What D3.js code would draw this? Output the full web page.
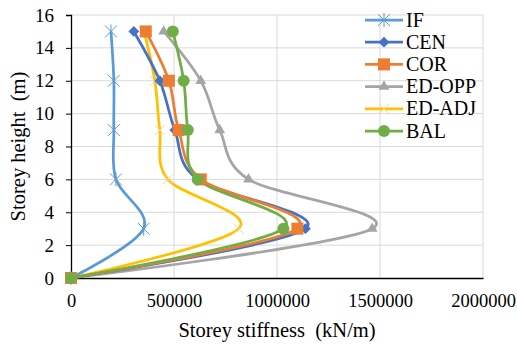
<!DOCTYPE html>
<html>
<head>
<meta charset="utf-8">
<script src="https://cdn.jsdelivr.net/npm/d3@7"></script>
<style>
  body { margin: 0; background: #fff; }
</style>
</head>
<body>
<div class="chart"></div>
<script>
// storey heights (m)
const heights = [0, 3, 6, 9, 12, 15];

// storey stiffness (kN/m) per model
const seriesNames = ['IF', 'CEN', 'COR', 'ED-OPP', 'ED-ADJ', 'BAL'];
const ifVals    = [0, 353000, 218000, 208000, 208000, 194000];
const cenVals   = [0, 1138000, 615000, 504000, 431000, 305000];
const corVals   = [0, 1099000, 630000, 523000, 475000, 363000];
const edOppVals = [0, 1462000, 862000, 722000, 630000, 450000];
const edAdjVals = [0, 814000, 470000, 431000, 407000, 355000];
const balVals   = [0, 1031000, 615000, 567000, 547000, 494000];

const xTicks = [0, 500000, 1000000, 1500000, 2000000];
const yTicks = [0, 2, 4, 6, 8, 10, 12, 14, 16];

const colors = ['#5B9BD5', '#4472C4', '#ED7D31', '#A5A5A5', '#FFC000', '#70AD47'];
const markers = ['star', 'diamond', 'square', 'triangle', 'cross', 'circle'];
const allVals = [ifVals, cenVals, corVals, edOppVals, edAdjVals, balVals];

const FONT = '"Liberation Serif", "Times New Roman", "DejaVu Serif", serif';

const series = seriesNames.map((name, i) => ({
    name: name,
    color: colors[i],
    marker: markers[i],
    points: heights.map((h, j) => ({ x: allVals[i][j], y: h }))
}));

const width = 517, height = 345;
const margin = {top: 15, right: 34, bottom: 67, left: 71};

const xScale = d3.scaleLinear().domain([0, 2000000]).range([margin.left, width - margin.right]);
const yScale = d3.scaleLinear().domain([0, 16]).range([height - margin.bottom, margin.top]);

const svg = d3.select('.chart')
    .append('svg')
    .attr('width', width)
    .attr('height', height)
    .style('font-family', FONT);

// gridlines
svg.append('g')
    .selectAll('line')
    .data(xTicks.slice(1))
    .join('line')
    .attr('x1', d => xScale(d)).attr('x2', d => xScale(d))
    .attr('y1', yScale(0)).attr('y2', yScale(16))
    .attr('stroke', '#d9d9d9');

svg.append('g')
    .selectAll('line')
    .data(yTicks.slice(1))
    .join('line')
    .attr('x1', xScale(0)).attr('x2', xScale(2000000))
    .attr('y1', d => yScale(d)).attr('y2', d => yScale(d))
    .attr('stroke', '#d9d9d9');

// axes
const xAxis = svg.append('g')
    .attr('transform', 'translate(0,' + yScale(0) + ')')
    .call(d3.axisBottom(xScale).tickValues(xTicks).tickSize(0).tickPadding(16).tickFormat(d3.format('d')));
xAxis.attr('font-family', null);
xAxis.select('.domain').attr('stroke', '#000').attr('stroke-width', 1.3);
xAxis.selectAll('text').style('font-family', FONT).style('font-size', '18.5px').attr('fill', '#000');

const yAxis = svg.append('g')
    .attr('transform', 'translate(' + xScale(0) + ',0)')
    .call(d3.axisLeft(yScale).tickValues(yTicks).tickSize(5).tickSizeOuter(5).tickPadding(12));
yAxis.attr('font-family', null);
yAxis.select('.domain').attr('stroke', '#000').attr('stroke-width', 1.3);
yAxis.selectAll('.tick line').attr('stroke', '#000');
yAxis.selectAll('text').style('font-family', FONT).style('font-size', '19px').attr('fill', '#000');

// axis titles
svg.append('text')
    .attr('x', (xScale(0) + xScale(2000000)) / 2)
    .attr('y', 337)
    .attr('text-anchor', 'middle')
    .style('font-family', FONT)
    .style('font-size', '20.5px')
    .style('white-space', 'pre')
    .text('Storey stiffness  (kN/m)');

svg.append('text')
    .attr('transform', 'translate(25,' + ((yScale(0) + yScale(16)) / 2) + ') rotate(-90)')
    .attr('text-anchor', 'middle')
    .style('font-family', FONT)
    .style('font-size', '20.5px')
    .style('white-space', 'pre')
    .text('Storey height  (m)');

const line = d3.line()
    .x(d => xScale(d.x))
    .y(d => yScale(d.y))
    .curve(d3.curveCardinal.tension(0));

function drawMarker(g, type, color, x, y) {
    if (type === 'star') {
        const r = 6;
        g.append('path')
            .attr('d', `M${x - r},${y - r}L${x + r},${y + r}M${x - r},${y + r}L${x + r},${y - r}M${x},${y - r - 1}L${x},${y + r + 1}`)
            .attr('stroke', color).attr('stroke-width', 1).attr('fill', 'none');
    } else if (type === 'cross') {
        const r = 5;
        g.append('path')
            .attr('d', `M${x - r},${y - r}L${x + r},${y + r}M${x - r},${y + r}L${x + r},${y - r}`)
            .attr('stroke', '#f2d9a0').attr('stroke-width', 1).attr('fill', 'none');
    } else if (type === 'diamond') {
        g.append('path')
            .attr('d', d3.symbol(d3.symbolDiamond2, 75)())
            .attr('transform', `translate(${x},${y})`)
            .attr('fill', color);
    } else if (type === 'square') {
        g.append('rect')
            .attr('x', x - 6).attr('y', y - 6)
            .attr('width', 12).attr('height', 12)
            .attr('fill', color);
    } else if (type === 'triangle') {
        g.append('path')
            .attr('d', d3.symbol(d3.symbolTriangle2, 85)())
            .attr('transform', `translate(${x},${y})`)
            .attr('fill', color);
    } else if (type === 'circle') {
        g.append('circle')
            .attr('cx', x).attr('cy', y).attr('r', 6)
            .attr('fill', color);
    }
}

// draw in order so later series sit on top
const drawOrder = [3, 0, 4, 1, 2, 5];
const lines = svg.append('g');
drawOrder.forEach(i => {
    const s = series[i];
    lines.append('path')
        .datum(s.points)
        .attr('d', line)
        .attr('fill', 'none')
        .attr('stroke', s.color)
        .attr('stroke-width', 2.75);
});
drawOrder.forEach(i => {
    const s = series[i];
    const g = lines.append('g');
    s.points.forEach(p => drawMarker(g, s.marker, s.color, xScale(p.x), yScale(p.y)));
});

// legend
const legend = svg.append('g');
series.forEach((s, i) => {
    const y = 20 + i * 22.2;
    const g = legend.append('g');
    g.append('line')
        .attr('x1', 365).attr('x2', 403)
        .attr('y1', y).attr('y2', y)
        .attr('stroke', s.color).attr('stroke-width', 2.75);
    drawMarker(g, s.marker, s.color, 384, y);
    g.append('text')
        .attr('x', 406)
        .attr('y', y + 6.5)
        .style('font-family', FONT)
        .style('font-size', '20px')
        .text(s.name);
});
</script>
</body>
</html>
